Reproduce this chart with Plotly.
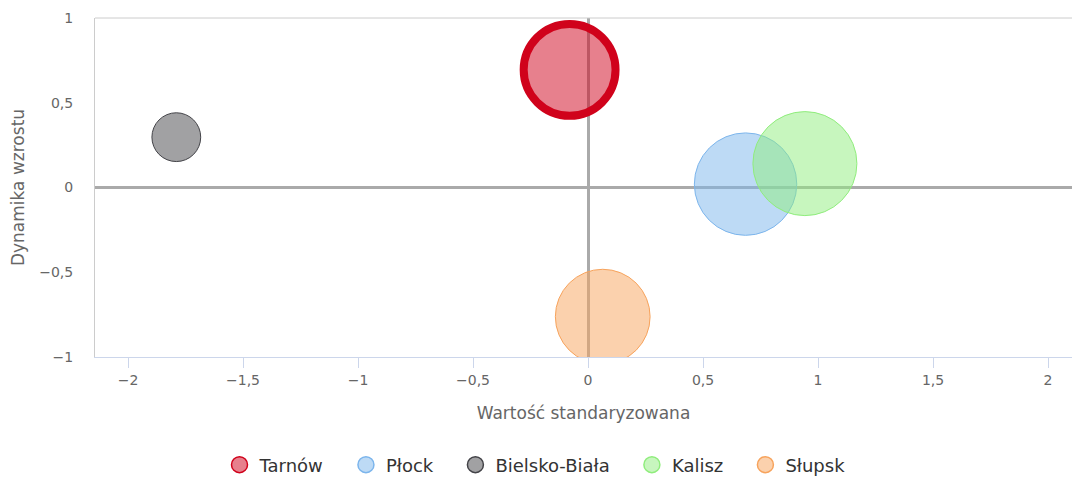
import plotly.graph_objects as go

# dane
miasta = ["Tarnów", "Płock", "Bielsko-Biała", "Kalisz", "Słupsk"]
wartosc_std = [-0.08, 0.685, -1.79, 0.943, 0.064]
dynamika = [0.694, 0.02, 0.297, 0.141, -0.762]
wielkosc = [7.8, 9.7, 2.2, 10.0, 8.3]

kolory = ["#d0021b", "#7cb5ec", "#434348", "#90ed7d", "#f7a35c"]
wypelnienia = ["rgba(208,2,27,0.5)", "rgba(124,181,236,0.5)", "rgba(67,67,72,0.5)",
               "rgba(144,237,125,0.5)", "rgba(247,163,92,0.5)"]
grubosc = [8, 1, 1, 1, 1]

font = "DejaVu Sans"
max_d = 104
sizeref = 2 * max(wielkosc) / max_d ** 2

fig = go.Figure()

for i, m in enumerate(miasta):
    fig.add_trace(go.Scatter(
        x=[wartosc_std[i]], y=[dynamika[i]],
        mode="markers", name=m, showlegend=False,
        marker=dict(size=[wielkosc[i]], sizemode="area", sizeref=sizeref, opacity=1,
                    color=wypelnienia[i], line=dict(color=kolory[i], width=grubosc[i]))))

# osobne wpisy legendy (stały rozmiar znacznika)
for i, m in enumerate(miasta):
    fig.add_trace(go.Scatter(
        x=[None], y=[None], mode="markers", name=m + "\u00a0\u00a0\u00a0",
        marker=dict(size=16, opacity=1, color=wypelnienia[i],
                    line=dict(color=kolory[i], width=1.5))))

# górna ramka obszaru wykresu
fig.add_shape(type="line", xref="paper", yref="paper", x0=0, x1=1, y0=1, y1=1,
              line=dict(color="#cccccc", width=1))

fig.update_layout(
    width=1072, height=477,
    margin=dict(l=95, r=0, t=18, b=120, autoexpand=False),
    plot_bgcolor="white", paper_bgcolor="white",
    separators=", ",
    font=dict(family=font, color="#666666"),
    showlegend=True,
    legend=dict(orientation="h", xref="container", x=0.507, xanchor="center",
                yref="container", y=0.0252, yanchor="middle",
                font=dict(size=18, color="#333333"), itemclick=False),
    xaxis=dict(
        range=[-2.1435, 2.1043], tickvals=[-2, -1.5, -1, -0.5, 0, 0.5, 1, 1.5, 2],
        automargin=False,
        showgrid=False, zeroline=True, zerolinecolor="#aaaaaa", zerolinewidth=3,
        showline=True, linecolor="#ccd6eb", linewidth=1,
        ticks="outside", ticklen=10, tickcolor="#ccd6eb", tickwidth=1,
        tickfont=dict(size=14, color="#666666"),
        title=dict(text="Wartość standaryzowana", font=dict(size=17, color="#666666"), standoff=20)),
    yaxis=dict(
        range=[-1, 1], tickvals=[-1, -0.5, 0, 0.5, 1],
        automargin=False,
        showgrid=False, zeroline=True, zerolinecolor="#aaaaaa", zerolinewidth=3,
        showline=True, linecolor="#cccccc", linewidth=1,
        ticks="", ticklabelstandoff=18,
        tickfont=dict(size=14, color="#666666"),
        title=dict(text="Dynamika wzrostu", font=dict(size=17, color="#666666"), standoff=10)),
)

fig.write_html("out.html", config={"displayModeBar": False},
               post_script="document.body.style.margin='0';document.body.style.overflow='hidden';")
